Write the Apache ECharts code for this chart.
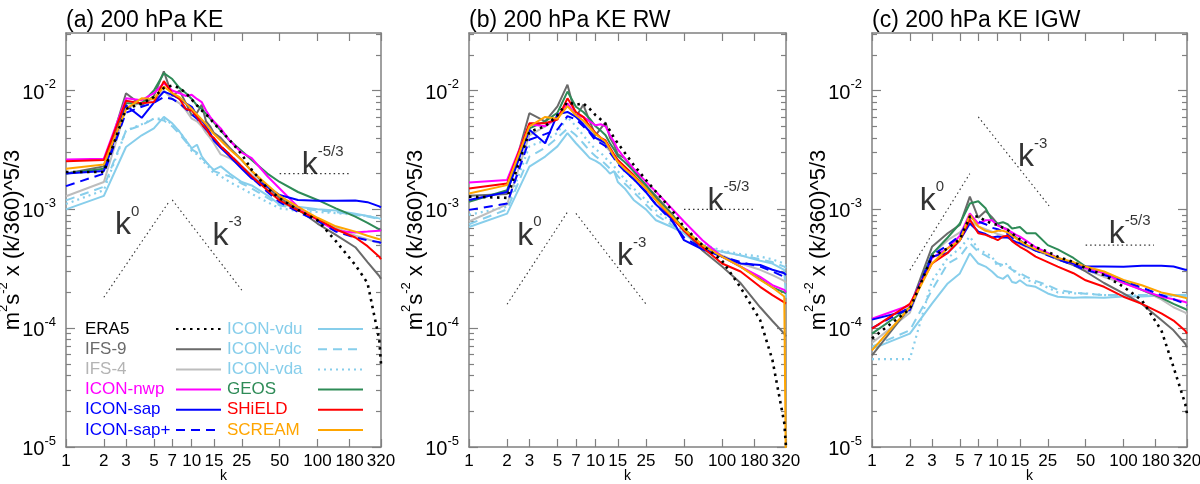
<!DOCTYPE html>
<html>
<head>
<meta charset="utf-8">
<title>200 hPa kinetic energy spectra</title>
<script src="https://cdn.jsdelivr.net/npm/echarts@6/dist/echarts.min.js"></script>
<style>
  html, body { margin: 0; padding: 0; background: #fff; }
  #chart { width: 1200px; height: 484px; }
</style>
</head>
<body>
<div id="chart"></div>
<script>
/* -------------------------------------------------------------------------- */
/*                                    Data                                    */
/* -------------------------------------------------------------------------- */

// zonal wavenumbers shared by every curve
const K = [1, 2, 3, 4, 5, 6, 7, 8, 9, 10, 11, 12, 13, 14, 15, 17, 20, 25, 30, 40, 50, 70, 100, 140, 200, 250, 310, 320];

// spectra, in units of 1e-4 m^2 s^-2 x (k/360)^5/3
const UNIT = 1e-4;

// (a) 200 hPa KE
const KE_ERA5   = [20.6, 20.6, 70, 78, 88, 105, 110, 105, 95, 84, 75, 68, 63, 58, 53, 46, 38.4, 29, 21.5, 15, 12.4, 9.9, 8.1, 5.4, 3.4, 2.4, 0.8, 0.5];
const KE_IFS9   = [20, 23, 95, 75, 90, 145, 90, 100, 78, 62, 65, 76, 55, 50, 44, 40, 33, 26, 21, 15.5, 12.5, 10, 7.6, 6.1, 4.8, 3.6, 2.75, 2.6];
const KE_IFS4   = [12.9, 17, 70, 80, 85, 100, 85, 78, 68, 58, 55, 50, 44, 40, 36, 29, 27, 23, 19.5, 15, 12.5, 10, 8.3, 7.0, 6.0, 5.6, 5.2, 5.1];
const KE_NWP    = [26.3, 26.7, 86, 83, 95, 115, 100, 95, 90, 92, 85, 80, 68, 60, 55, 48, 38, 30, 27, 19, 15, 10.5, 8.1, 6.6, 6.4, 6.5, 6.6, 6.7];
const KE_SAP    = [20, 21, 75, 59, 79, 98, 92, 85, 78, 73, 62, 56, 50, 44, 38, 33, 28, 22, 18.2, 15.5, 13.2, 12, 11.8, 11.8, 11.9, 11.5, 10.6, 10.4];
const KE_SAPP   = [15.7, 20, 65, 73, 79, 88, 85, 78, 70, 63, 58, 52, 47, 43, 39, 34, 29, 23, 18.5, 14, 11.5, 9.5, 8.0, 6.5, 5.8, 5.5, 5.3, 5.2];
const KE_GEOS   = [20, 22, 78, 78, 100, 140, 125, 105, 95, 85, 75, 70, 64, 58, 54, 46, 38, 31, 26, 20, 17, 14, 12, 10.2, 8.7, 7.7, 6.8, 6.6];
const KE_SHIELD = [25.4, 26, 82, 78, 80, 120, 95, 85, 70, 68, 60, 52, 48, 42, 40, 34, 29, 23, 19, 14.5, 11.9, 9.8, 8.3, 6.8, 5.8, 4.9, 4.0, 3.8];
const KE_SCREAM = [22, 23.8, 70, 86, 85, 108, 95, 88, 78, 70, 63, 57, 52, 47, 43, 38, 32, 26, 21, 16, 13, 10.5, 8.5, 7.2, 6.5, 6.0, 5.6, 5.6];
const KE_VDU    = [10, 13, 33.5, 42, 48, 60, 53, 45, 38, 32.7, 35, 28, 25, 23, 21.5, 23, 20, 17, 15.9, 13.1, 11, 10.5, 10, 9.8, 9.2, 8.8, 8.4, 8.3];
const KE_VDC    = [11.9, 15.5, 46, 51, 58, 56, 50, 43, 37, 32, 30, 27, 25, 23, 21, 20, 19, 16.5, 15, 12.5, 10.8, 10.2, 9.8, 9.5, 9.0, 8.7, 8.3, 8.2];
const KE_VDA    = [11.1, 14.5, 46, 52, 58, 58, 52, 45, 38, 31, 29, 26, 24, 22, 20, 19, 17, 15, 13.5, 11.5, 10.2, 9.7, 9.5, 9.3, 9.0, 8.8, 8.4, 8.3];

// (b) 200 hPa KE RW
const RW_ERA5   = [12.8, 12.5, 45, 50, 62, 80, 76, 78, 70, 62, 57, 52, 46, 40, 36, 30, 23.7, 17.7, 14.1, 9.9, 7.1, 5.0, 3.7, 2.2, 1.17, 0.54, 0.16, 0.1];
const RW_IFS9   = [13, 13.5, 64.5, 55, 73.5, 112, 60, 76, 55, 42, 48, 54, 40, 35, 29, 27, 21, 16, 13, 9.2, 6.7, 4.5, 3.3, 2.4, 1.5, 1.15, 0.9, 0.85];
const RW_IFS4   = [7.9, 11, 42, 50, 58, 75, 62, 55, 48, 40, 37, 34, 31, 28, 25, 22, 19, 15, 12, 8.6, 6.7, 4.9, 4.1, 3.5, 3.1, 2.8, 2.5, 2.4];
const RW_NWP    = [16.8, 17.7, 52, 50, 60, 78, 62, 60, 55, 51, 52, 50, 42, 37, 32, 27, 22, 17.1, 14.1, 10.2, 7.9, 5.5, 4.0, 3.3, 2.7, 2.3, 2.1, 2.0];
const RW_SAP    = [12, 14, 46.7, 36, 63, 66, 60, 52, 45, 40, 38, 36, 32, 28, 25, 21, 18, 14, 11, 8.3, 5.5, 4.6, 4.0, 3.5, 3.4, 3.1, 2.9, 2.8];
const RW_SAPP   = [9.9, 11.2, 38.5, 43, 47, 61, 57, 50, 44, 38, 36, 34, 30, 27, 24, 21, 18, 14, 11, 8.0, 5.8, 4.7, 4.0, 3.6, 3.3, 3.0, 2.7, 2.6];
const RW_GEOS   = [11.6, 14.5, 48, 55, 65, 98, 73, 66, 58, 50, 46, 42, 36, 32, 28, 25, 21, 16, 12.5, 9, 6.9, 5.0, 4.0, 3.3, 2.6, 2.2, 2.0, 1.96];
const RW_SHIELD = [15, 16.5, 53, 53, 57, 86, 66, 60, 50, 44, 40, 38, 33, 29, 26, 23, 19.5, 15, 12, 8.6, 6.6, 4.8, 3.5, 3.0, 2.23, 1.9, 1.65, 1.61];
const RW_SCREAM = [13.6, 16, 50, 60, 58, 74, 62, 56, 49, 43, 40, 37, 32, 28, 25, 22, 19, 15, 12, 8.8, 6.8, 5.0, 4.0, 3.3, 2.55, 2.2, 1.85, 0.05];
const RW_VDU    = [7.1, 9.2, 22.9, 27.8, 33.9, 43.8, 36, 31, 27, 25.6, 24, 22, 20, 21, 17, 15, 12, 10, 8.1, 7.1, 6.3, 4.7, 4.4, 4.1, 3.7, 3.5, 3.1, 1.8];
const RW_VDC    = [7.5, 10, 27.8, 33, 40, 48, 42, 36, 31, 28, 26, 24, 22, 21, 19, 16.5, 14, 11, 9, 7.4, 6.4, 5.0, 4.4, 4.1, 3.8, 3.6, 3.3, 3.2];
const RW_VDA    = [9.0, 10.5, 34, 38, 44, 60, 50, 42, 36, 32, 30, 27, 25, 23, 21, 18, 15, 12, 9.8, 7.8, 6.5, 5.1, 4.5, 4.2, 4.0, 3.8, 3.5, 3.4];

// (c) 200 hPa KE IGW
const IGW_ERA5   = [0.82, 1.45, 4.0, 4.7, 5.6, 8.7, 8.7, 8.0, 7.6, 7.4, 7.0, 6.7, 6.3, 5.9, 5.6, 5.2, 4.8, 4.4, 4.0, 3.6, 3.2, 2.8, 2.23, 1.72, 0.96, 0.47, 0.23, 0.19];
const IGW_IFS9   = [0.59, 1.5, 4.84, 6.3, 7.4, 12.8, 8.5, 9.7, 8.6, 7.5, 7.0, 6.8, 6.2, 5.8, 5.5, 5.0, 4.5, 4.2, 3.8, 3.4, 3.0, 2.4, 1.96, 1.6, 1.17, 0.96, 0.74, 0.69];
const IGW_IFS4   = [0.75, 1.35, 4.2, 5.5, 6.4, 8.0, 7.2, 6.8, 6.5, 6.2, 6.0, 5.8, 5.5, 5.3, 5.1, 4.8, 4.5, 4.1, 3.8, 3.4, 3.1, 2.7, 2.4, 2.1, 1.75, 1.5, 1.35, 1.3];
const IGW_NWP    = [1.2, 1.56, 3.9, 4.7, 6.0, 9.25, 7.6, 8.1, 8.1, 7.3, 7.0, 6.7, 6.4, 6.1, 5.9, 5.4, 4.8, 4.3, 3.9, 3.5, 3.2, 2.9, 2.4, 2.1, 1.84, 1.75, 1.66, 1.63];
const IGW_SAP    = [1.18, 1.42, 4.0, 4.3, 5.5, 7.6, 6.5, 6.2, 5.8, 5.9, 5.8, 5.8, 5.5, 5.3, 5.2, 4.9, 4.54, 4.2, 3.9, 3.5, 3.3, 3.3, 3.29, 3.35, 3.35, 3.3, 3.1, 3.1];
const IGW_SAPP   = [1.0, 1.5, 4.1, 5.0, 6.0, 8.6, 7.9, 7.5, 7.0, 6.8, 6.5, 6.2, 5.8, 5.5, 5.2, 4.9, 4.5, 4.1, 3.8, 3.4, 3.1, 2.8, 2.5, 2.2, 1.9, 1.75, 1.6, 1.55];
const IGW_GEOS   = [0.9, 1.5, 4.2, 5.8, 7.6, 11.2, 11.7, 10.2, 8.1, 7.6, 7.8, 7.5, 6.9, 7.0, 7.1, 6.3, 6.3, 5.0, 4.6, 3.9, 3.3, 2.9, 2.5, 2.1, 1.8, 1.6, 1.45, 1.42];
const IGW_SHIELD = [0.99, 1.6, 3.5, 4.3, 5.5, 8.2, 6.3, 6.1, 5.8, 5.5, 5.9, 6.0, 5.4, 5.1, 4.84, 4.5, 4.0, 3.6, 3.3, 2.9, 2.53, 2.23, 1.84, 1.6, 1.33, 1.16, 0.95, 0.9];
const IGW_SCREAM = [0.65, 1.5, 3.5, 4.7, 5.5, 9.0, 7.2, 6.6, 6.4, 6.6, 6.6, 6.4, 6.0, 5.7, 5.4, 5.0, 4.6, 4.2, 3.9, 3.6, 3.3, 3.0, 2.55, 2.3, 2.0, 1.9, 1.8, 1.78];
const IGW_VDU    = [0.67, 0.9, 1.61, 2.38, 2.89, 4.26, 3.5, 3.3, 3.0, 2.7, 2.6, 2.8, 2.45, 2.4, 2.53, 2.3, 2.23, 1.96, 1.84, 1.8, 1.82, 1.8, 1.85, 1.85, 1.88, 1.9, 1.9, 1.88];
const IGW_VDC    = [0.7, 0.96, 2.09, 3.5, 4.0, 5.2, 4.4, 4.1, 3.8, 3.5, 3.4, 3.3, 3.1, 3.0, 2.9, 2.7, 2.5, 2.3, 2.1, 2.0, 1.95, 1.9, 1.9, 1.9, 1.9, 1.88, 1.84, 1.82];
const IGW_VDA    = [0.55, 0.55, 2.5, 3.9, 4.7, 5.9, 4.6, 4.3, 4.0, 3.3, 3.4, 3.5, 3.1, 2.9, 2.8, 2.55, 2.4, 2.2, 2.0, 1.96, 1.96, 1.9, 1.88, 1.88, 1.9, 1.88, 1.85, 1.8];

// reference slopes: k^0, k^-3, k^-5/3 segments, per panel
const GUIDES_KE  = [[[2, 1.82e-4], [6.6, 1.16e-3]], [[7, 1.2e-3], [25, 2.09e-4]], [[50, 2.0e-3], [180, 2.0e-3]]];
const GUIDES_RW  = [[[2, 1.59e-4], [6.1, 9.75e-4]], [[7, 9.25e-4], [25, 1.6e-4]], [[50, 1.0e-3], [175, 1.0e-3]]];
const GUIDES_IGW = [[[2, 3.08e-4], [6, 2.0e-3]], [[7, 6.0e-3], [25.6, 1.07e-3]], [[50, 5.0e-4], [175, 5.0e-4]]];

// where the slope names sit: k^0, k^-3, k^-5/3
const SLOPE_TEXT = ['0', '-3', '-5/3'];
const SLOPE_POS_KE  = [[3.06, 7.7e-4], [19.1, 6.3e-4], [110, 2.45e-3]];
const SLOPE_POS_RW  = [[3.0, 6.3e-4], [19.3, 4.26e-4], [112, 1.24e-3]];
const SLOPE_POS_IGW = [[3.0, 1.24e-3], [19, 2.87e-3], [112, 6.5e-4]];

const X_TICKS = [1, 2, 3, 5, 7, 10, 15, 25, 50, 100, 180, 320];
const Y_MAJOR = [1e-5, 1e-4, 1e-3, 1e-2];
const Y_MINOR = [
  2e-5, 3e-5, 4e-5, 5e-5, 6e-5, 7e-5, 8e-5, 9e-5,
  2e-4, 3e-4, 4e-4, 5e-4, 6e-4, 7e-4, 8e-4, 9e-4,
  2e-3, 3e-3, 4e-3, 5e-3, 6e-3, 7e-3, 8e-3, 9e-3,
  2e-2, 3e-2
];

const TITLES = ['(a) 200 hPa KE', '(b) 200 hPa KE RW', '(c) 200 hPa KE IGW'];
const LEGEND_COL1 = ['ERA5', 'IFS-9', 'IFS-4', 'ICON-nwp', 'ICON-sap', 'ICON-sap+'];
const LEGEND_COL2 = ['ICON-vdu', 'ICON-vdc', 'ICON-vda', 'GEOS', 'SHiELD', 'SCREAM'];

/* -------------------------------------------------------------------------- */
/*                                   Styling                                  */
/* -------------------------------------------------------------------------- */

const FONT = '"Liberation Sans", Arial, Helvetica, sans-serif';
const FRAME = '#808080';

const MODELS = {
  'ERA5':      { color: '#000000', dash: [2.5, 4.5], width: 2.6 },
  'IFS-9':     { color: '#6a6a6a', dash: 'solid', width: 2 },
  'IFS-4':     { color: '#bdbdbd', dash: 'solid', width: 2 },
  'ICON-nwp':  { color: '#ff00ff', dash: 'solid', width: 2 },
  'ICON-sap':  { color: '#0000ff', dash: 'solid', width: 2 },
  'ICON-sap+': { color: '#0000ff', dash: [9, 6], width: 2 },
  'ICON-vdu':  { color: '#87ceeb', dash: 'solid', width: 2 },
  'ICON-vdc':  { color: '#87ceeb', dash: [9, 6], width: 2 },
  'ICON-vda':  { color: '#87ceeb', dash: [2, 4], width: 2.2 },
  'GEOS':      { color: '#2e8b57', dash: 'solid', width: 2 },
  'SHiELD':    { color: '#ff0000', dash: 'solid', width: 2 },
  'SCREAM':    { color: '#ffa500', dash: 'solid', width: 2 }
};

// drawing order, bottom to top
const DRAW_ORDER = ['ICON-vdu', 'ICON-vdc', 'ICON-vda', 'IFS-4', 'IFS-9', 'GEOS', 'ICON-nwp',
  'ICON-sap', 'ICON-sap+', 'SHiELD', 'SCREAM', 'ERA5'];

const PANELS = [
  {
    left: 66, width: 315, guides: GUIDES_KE, slopePos: SLOPE_POS_KE,
    data: { 'ERA5': KE_ERA5, 'IFS-9': KE_IFS9, 'IFS-4': KE_IFS4, 'ICON-nwp': KE_NWP, 'ICON-sap': KE_SAP,
      'ICON-sap+': KE_SAPP, 'ICON-vdu': KE_VDU, 'ICON-vdc': KE_VDC, 'ICON-vda': KE_VDA,
      'GEOS': KE_GEOS, 'SHiELD': KE_SHIELD, 'SCREAM': KE_SCREAM }
  },
  {
    left: 469, width: 317, guides: GUIDES_RW, slopePos: SLOPE_POS_RW,
    data: { 'ERA5': RW_ERA5, 'IFS-9': RW_IFS9, 'IFS-4': RW_IFS4, 'ICON-nwp': RW_NWP, 'ICON-sap': RW_SAP,
      'ICON-sap+': RW_SAPP, 'ICON-vdu': RW_VDU, 'ICON-vdc': RW_VDC, 'ICON-vda': RW_VDA,
      'GEOS': RW_GEOS, 'SHiELD': RW_SHIELD, 'SCREAM': RW_SCREAM }
  },
  {
    left: 872, width: 315, guides: GUIDES_IGW, slopePos: SLOPE_POS_IGW,
    data: { 'ERA5': IGW_ERA5, 'IFS-9': IGW_IFS9, 'IFS-4': IGW_IFS4, 'ICON-nwp': IGW_NWP, 'ICON-sap': IGW_SAP,
      'ICON-sap+': IGW_SAPP, 'ICON-vdu': IGW_VDU, 'ICON-vdc': IGW_VDC, 'ICON-vda': IGW_VDA,
      'GEOS': IGW_GEOS, 'SHiELD': IGW_SHIELD, 'SCREAM': IGW_SCREAM }
  }
];

const GRID_TOP = 33;
const GRID_HEIGHT = 414;
const Y_MIN = 1e-5;
const Y_MAX = 0.0305;

/* -------------------------------------------------------------------------- */
/*                                   Options                                  */
/* -------------------------------------------------------------------------- */

const tickStyle = { color: FRAME, width: 1.2 };

const supRich = (base, sup) => ({
  b: { fontSize: base, lineHeight: base + 5, verticalAlign: 'bottom', color: '#000', fontFamily: FONT },
  s: { fontSize: sup, lineHeight: sup + 1, verticalAlign: 'top', color: '#000', fontFamily: FONT }
});

const grids = [];
const xAxes = [];
const yAxes = [];
const series = [];

PANELS.forEach((panel, i) => {
  grids.push({
    left: panel.left, width: panel.width, top: GRID_TOP, height: GRID_HEIGHT,
    containLabel: false, outerBoundsMode: 'none'
  });

  const xBase = {
    type: 'log', logBase: 10, gridIndex: i, min: 1, max: 320,
    axisLine: { show: true, onZero: false, lineStyle: { color: FRAME, width: 1.5 } },
    axisTick: { show: true, inside: true, length: 8, customValues: X_TICKS, lineStyle: tickStyle },
    splitLine: { show: false },
    minorTick: { show: false }
  };
  xAxes.push({
    ...xBase,
    position: 'bottom',
    axisLabel: {
      show: true, customValues: X_TICKS, margin: 6, fontSize: 17, color: '#000', fontFamily: FONT,
      formatter: v => String(Math.round(v))
    },
    name: 'k', nameLocation: 'middle', nameGap: 22, nameMoveOverlap: false,
    nameTextStyle: { fontSize: 14, color: '#000', fontFamily: FONT }
  });
  xAxes.push({ ...xBase, position: 'top', axisLabel: { show: false } });

  const yBase = {
    type: 'log', logBase: 10, gridIndex: i, min: Y_MIN, max: Y_MAX,
    splitLine: { show: false },
    minorTick: { show: false }
  };
  // left: frame, labels and decade ticks
  yAxes.push({
    ...yBase,
    position: 'left',
    axisLine: { show: true, onZero: false, lineStyle: { color: FRAME, width: 1.5 } },
    axisTick: { show: true, inside: true, length: 9, customValues: Y_MAJOR, lineStyle: tickStyle },
    axisLabel: {
      show: true, customValues: Y_MAJOR, margin: 10,
      formatter: v => `{b|10}{s|${Math.round(Math.log10(v))}}`,
      rich: supRich(20, 13)
    },
    name: '{b|m}{s|2}{b|s}{s|-2}{b| x (k/360)^5/3}',
    nameLocation: 'middle', nameRotate: 90, nameGap: 42, nameMoveOverlap: false,
    nameTextStyle: { rich: supRich(22, 13) }
  });
  // left: minor ticks
  yAxes.push({
    ...yBase,
    position: 'left',
    axisLine: { show: false },
    axisTick: { show: true, inside: true, length: 5, customValues: Y_MINOR, lineStyle: tickStyle },
    axisLabel: { show: false }
  });
  // right: frame and decade ticks
  yAxes.push({
    ...yBase,
    position: 'right',
    axisLine: { show: true, onZero: false, lineStyle: { color: FRAME, width: 1.5 } },
    axisTick: { show: true, inside: true, length: 9, customValues: Y_MAJOR, lineStyle: tickStyle },
    axisLabel: { show: false }
  });
  // right: minor ticks
  yAxes.push({
    ...yBase,
    position: 'right',
    axisLine: { show: false },
    axisTick: { show: true, inside: true, length: 5, customValues: Y_MINOR, lineStyle: tickStyle },
    axisLabel: { show: false }
  });

  const xIdx = 2 * i;
  const yIdx = 4 * i;

  // reference slope lines
  panel.guides.forEach(seg => {
    series.push({
      type: 'line', xAxisIndex: xIdx, yAxisIndex: yIdx, data: seg,
      symbol: 'none', silent: true, z: 1,
      lineStyle: { color: '#333', width: 1.1, type: [1.5, 3] }
    });
  });

  // slope names
  panel.slopePos.forEach((pos, j) => {
    series.push({
      type: 'scatter', xAxisIndex: xIdx, yAxisIndex: yIdx, data: [pos],
      symbolSize: 1, itemStyle: { color: 'rgba(0,0,0,0)' }, silent: true, z: 1,
      label: {
        show: true, position: 'inside',
        formatter: `{b|k}{s|${SLOPE_TEXT[j]}}`,
        rich: supRich(32, 15)
      }
    });
  });

  // model spectra
  DRAW_ORDER.forEach((name, j) => {
    const m = MODELS[name];
    const vals = panel.data[name];
    series.push({
      type: 'line', name, xAxisIndex: xIdx, yAxisIndex: yIdx,
      data: K.map((k, n) => [k, vals[n] * UNIT]),
      symbol: 'none', showSymbol: false, silent: true, z: 2 + j * 0.01,
      itemStyle: { color: m.color },
      lineStyle: { color: m.color, width: m.width, type: m.dash }
    });
  });
});

const legendBase = {
  orient: 'vertical', align: 'right', top: 319, padding: 0, itemGap: 0.2,
  itemWidth: 45, itemHeight: 14, selectedMode: false,
  itemStyle: { opacity: 0 },
  formatter: name => `{t|${name}}`,
  textStyle: {
    fontSize: 17, fontFamily: FONT, lineHeight: 20,
    rich: { t: { width: 86, align: 'left', fontSize: 17, fontFamily: FONT, lineHeight: 20 } }
  }
};
const legendItems = names => names.map(n => ({
  name: n,
  textStyle: { color: n === 'IFS-4' ? '#b4b4b4' : MODELS[n].color }
}));

const option = {
  animation: false,
  backgroundColor: '#ffffff',
  title: TITLES.map((t, i) => ({
    text: t, left: PANELS[i].left, top: 9, padding: 0,
    textStyle: { fontSize: 23, fontWeight: 'normal', color: '#000', fontFamily: FONT }
  })),
  legend: [
    { ...legendBase, left: 85, data: legendItems(LEGEND_COL1) },
    { ...legendBase, left: 227, data: legendItems(LEGEND_COL2) }
  ],
  grid: grids,
  xAxis: xAxes,
  yAxis: yAxes,
  series
};

const chart = echarts.init(document.getElementById('chart'));
chart.setOption(option);
window.addEventListener('resize', () => chart.resize());
</script>
</body>
</html>
